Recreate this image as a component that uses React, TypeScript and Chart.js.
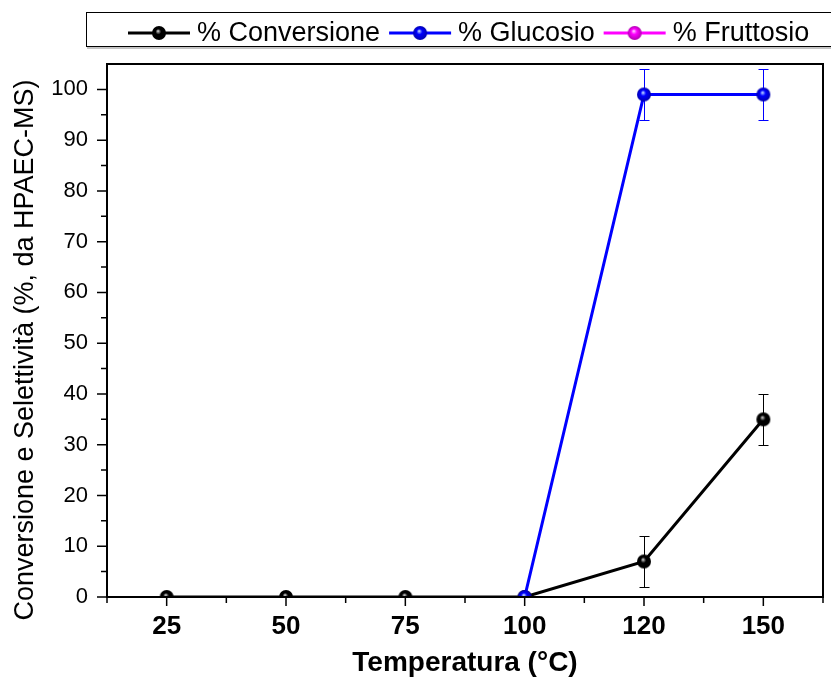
import React, { useEffect, useRef } from 'react';
import { Chart, registerables } from 'chart.js';

Chart.register(...registerables);

const temperatures = ['25', '50', '75', '100', '120', '150'];
const conversione = [0, 0, 0, 0, 7, 35];
const conversioneErr = [0, 0, 0, 0, 5, 5];
const glucosio = [null, null, null, 0, 99, 99];
const glucosioErr = [null, null, null, 0, 5, 5];
const fruttosio = [null, null, null, null, null, null];
const fruttosioErr = [null, null, null, null, null, null];
const yTicks = [0, 10, 20, 30, 40, 50, 60, 70, 80, 90, 100];
const seriesLabels = ['% Conversione', '% Glucosio', '% Fruttosio'];
const seriesColors = ['#000000', '#0000ff', '#ff00ff'];
const ballLight = ['#9a9a9a', '#8fa8ff', '#ff9cff'];
const ballDark = ['#000000', '#0000b0', '#b000b0'];
const errorSets = [conversioneErr, glucosioErr, fruttosioErr];

const FONT = '"Liberation Sans", Arial, Helvetica, sans-serif';

function makeBall(color: string, light: string, dark: string, r: number) {
  const c = document.createElement('canvas');
  const size = 16;
  c.width = size;
  c.height = size;
  const g = c.getContext('2d')!;
  const cx = size / 2;
  const cy = size / 2;
  const grad = g.createRadialGradient(cx - r * 0.15, cy - r * 0.3, 0, cx, cy, r);
  grad.addColorStop(0, '#ffffff');
  grad.addColorStop(0.12, light);
  grad.addColorStop(0.4, color);
  grad.addColorStop(1, dark);
  g.fillStyle = grad;
  g.beginPath();
  g.arc(cx, cy, r, 0, Math.PI * 2);
  g.fill();
  return c;
}

const errorBarPlugin = {
  id: 'errorBars',
  beforeDatasetsDraw(chart: any) {
    const { ctx } = chart;
    const xs = chart.scales.x;
    const ys = chart.scales.y;
    ctx.save();
    chart.data.datasets.forEach((ds: any, di: number) => {
      const errs = errorSets[di];
      ds.data.forEach((v: number | null, i: number) => {
        const e = errs[i];
        if (v == null || !e) return;
        const x = Math.round(xs.getPixelForValue(i)) + 0.5;
        const yt = Math.round(ys.getPixelForValue(v + e)) + 0.5;
        const yb = Math.round(ys.getPixelForValue(v - e)) + 0.5;
        ctx.strokeStyle = ds.borderColor;
        ctx.lineWidth = 1;
        ctx.beginPath();
        ctx.moveTo(x, yt);
        ctx.lineTo(x, yb);
        ctx.moveTo(x - 5, yt);
        ctx.lineTo(x + 5, yt);
        ctx.moveTo(x - 5, yb);
        ctx.lineTo(x + 5, yb);
        ctx.stroke();
      });
    });
    ctx.restore();
  },
};

const framePlugin = {
  id: 'frame',
  afterDraw(chart: any) {
    const { ctx, chartArea } = chart;
    const xs = chart.scales.x;
    const ys = chart.scales.y;
    const { left, right, top, bottom } = chartArea;
    ctx.save();
    ctx.strokeStyle = '#000';
    ctx.lineWidth = 2;
    ctx.strokeRect(left, top, right - left, bottom - top);

    // x ticks
    ctx.lineWidth = 1.5;
    ctx.beginPath();
    const n = temperatures.length;
    for (let i = 0; i < n; i++) {
      const px = xs.getPixelForValue(i);
      ctx.moveTo(px, bottom);
      ctx.lineTo(px, bottom + 9);
    }
    for (let i = 0; i <= n; i++) {
      const px = xs.getPixelForValue(i - 0.5);
      ctx.moveTo(px, bottom);
      ctx.lineTo(px, bottom + 6);
    }
    // y ticks
    for (let k = 0; k < yTicks.length; k++) {
      const py = ys.getPixelForValue(yTicks[k]);
      ctx.moveTo(left, py);
      ctx.lineTo(left - 10, py);
      if (k < yTicks.length - 1) {
        const pm = ys.getPixelForValue((yTicks[k] + yTicks[k + 1]) / 2);
        ctx.moveTo(left, pm);
        ctx.lineTo(left - 6, pm);
      }
    }
    ctx.stroke();

    // y title
    ctx.save();
    ctx.translate(33, 350);
    ctx.rotate(-Math.PI / 2);
    ctx.fillStyle = '#000';
    ctx.font = `27px ${FONT}`;
    ctx.textAlign = 'center';
    ctx.textBaseline = 'alphabetic';
    ctx.fillText('Conversione e Selettività (%, da HPAEC-MS)', 0, 0);
    ctx.restore();

    // legend
    ctx.lineWidth = 1;
    ctx.strokeStyle = '#000';
    ctx.strokeRect(86.5, 12.5, 800, 34);
    ctx.strokeStyle = '#888';
    ctx.beginPath();
    ctx.moveTo(87, 48);
    ctx.lineTo(831, 48);
    ctx.stroke();
    ctx.font = `27px ${FONT}`;
    ctx.textBaseline = 'middle';
    ctx.textAlign = 'left';
    let x = 128;
    const cy = 33;
    chart.data.datasets.forEach((ds: any) => {
      ctx.strokeStyle = ds.borderColor;
      ctx.lineWidth = 3;
      ctx.beginPath();
      ctx.moveTo(x, cy);
      ctx.lineTo(x + 62, cy);
      ctx.stroke();
      const img = ds.pointStyle;
      ctx.drawImage(img, x + 31 - img.width / 2, cy - img.height / 2);
      ctx.fillStyle = '#000';
      ctx.fillText(ds.label, x + 69, cy + 1);
      x += 69 + ctx.measureText(ds.label).width + 9;
    });
    ctx.restore();
  },
};

export default function App() {
  const ref = useRef<HTMLCanvasElement | null>(null);

  useEffect(() => {
    document.body.style.margin = '0';
    const canvas = ref.current!;
    const seriesData = [conversione, glucosio, fruttosio];
    const orders = [1, 0, 2];
    const chart = new Chart(canvas, {
      type: 'line',
      data: {
        labels: temperatures,
        datasets: seriesData.map((d, i) => ({
          label: seriesLabels[i],
          data: d,
          borderColor: seriesColors[i],
          backgroundColor: seriesColors[i],
          borderWidth: 3,
          pointStyle: makeBall(seriesColors[i], ballLight[i], ballDark[i], 7) as any,
          pointRadius: 7,
          pointBorderWidth: 0,
          tension: 0,
          clip: 0,
          order: orders[i],
        })),
      },
      options: {
        responsive: false,
        animation: false,
        devicePixelRatio: 1,
        layout: { padding: { top: 64, right: 8, left: 0, bottom: 0 } },
        plugins: {
          legend: { display: false },
          tooltip: { enabled: false },
        },
        scales: {
          x: {
            type: 'category',
            offset: true,
            grid: { display: false, drawTicks: false },
            border: { display: false },
            ticks: {
              color: '#000',
              padding: 14,
              maxRotation: 0,
              autoSkip: false,
              font: { family: FONT, size: 26, weight: 'bold' },
            },
            title: {
              display: true,
              text: 'Temperatura (°C)',
              color: '#000',
              font: { family: FONT, size: 28, weight: 'bold' },
              padding: { top: 0, bottom: 0 },
            },
            afterFit: (s: any) => {
              s.height = 83;
            },
          },
          y: {
            min: 0,
            max: 105,
            grid: { display: false, drawTicks: false },
            border: { display: false },
            ticks: {
              color: '#000',
              padding: 19,
              font: { family: FONT, size: 22 },
            },
            afterBuildTicks: (s: any) => {
              s.ticks = yTicks.map((v) => ({ value: v }));
            },
            afterFit: (s: any) => {
              s.width = 107;
            },
          },
        },
      },
      plugins: [errorBarPlugin, framePlugin],
    } as any);
    return () => chart.destroy();
  }, []);

  return (
    <div style={{ width: 831, height: 680, background: '#fff' }}>
      <canvas ref={ref} width={831} height={680} style={{ display: 'block' }} />
    </div>
  );
}
